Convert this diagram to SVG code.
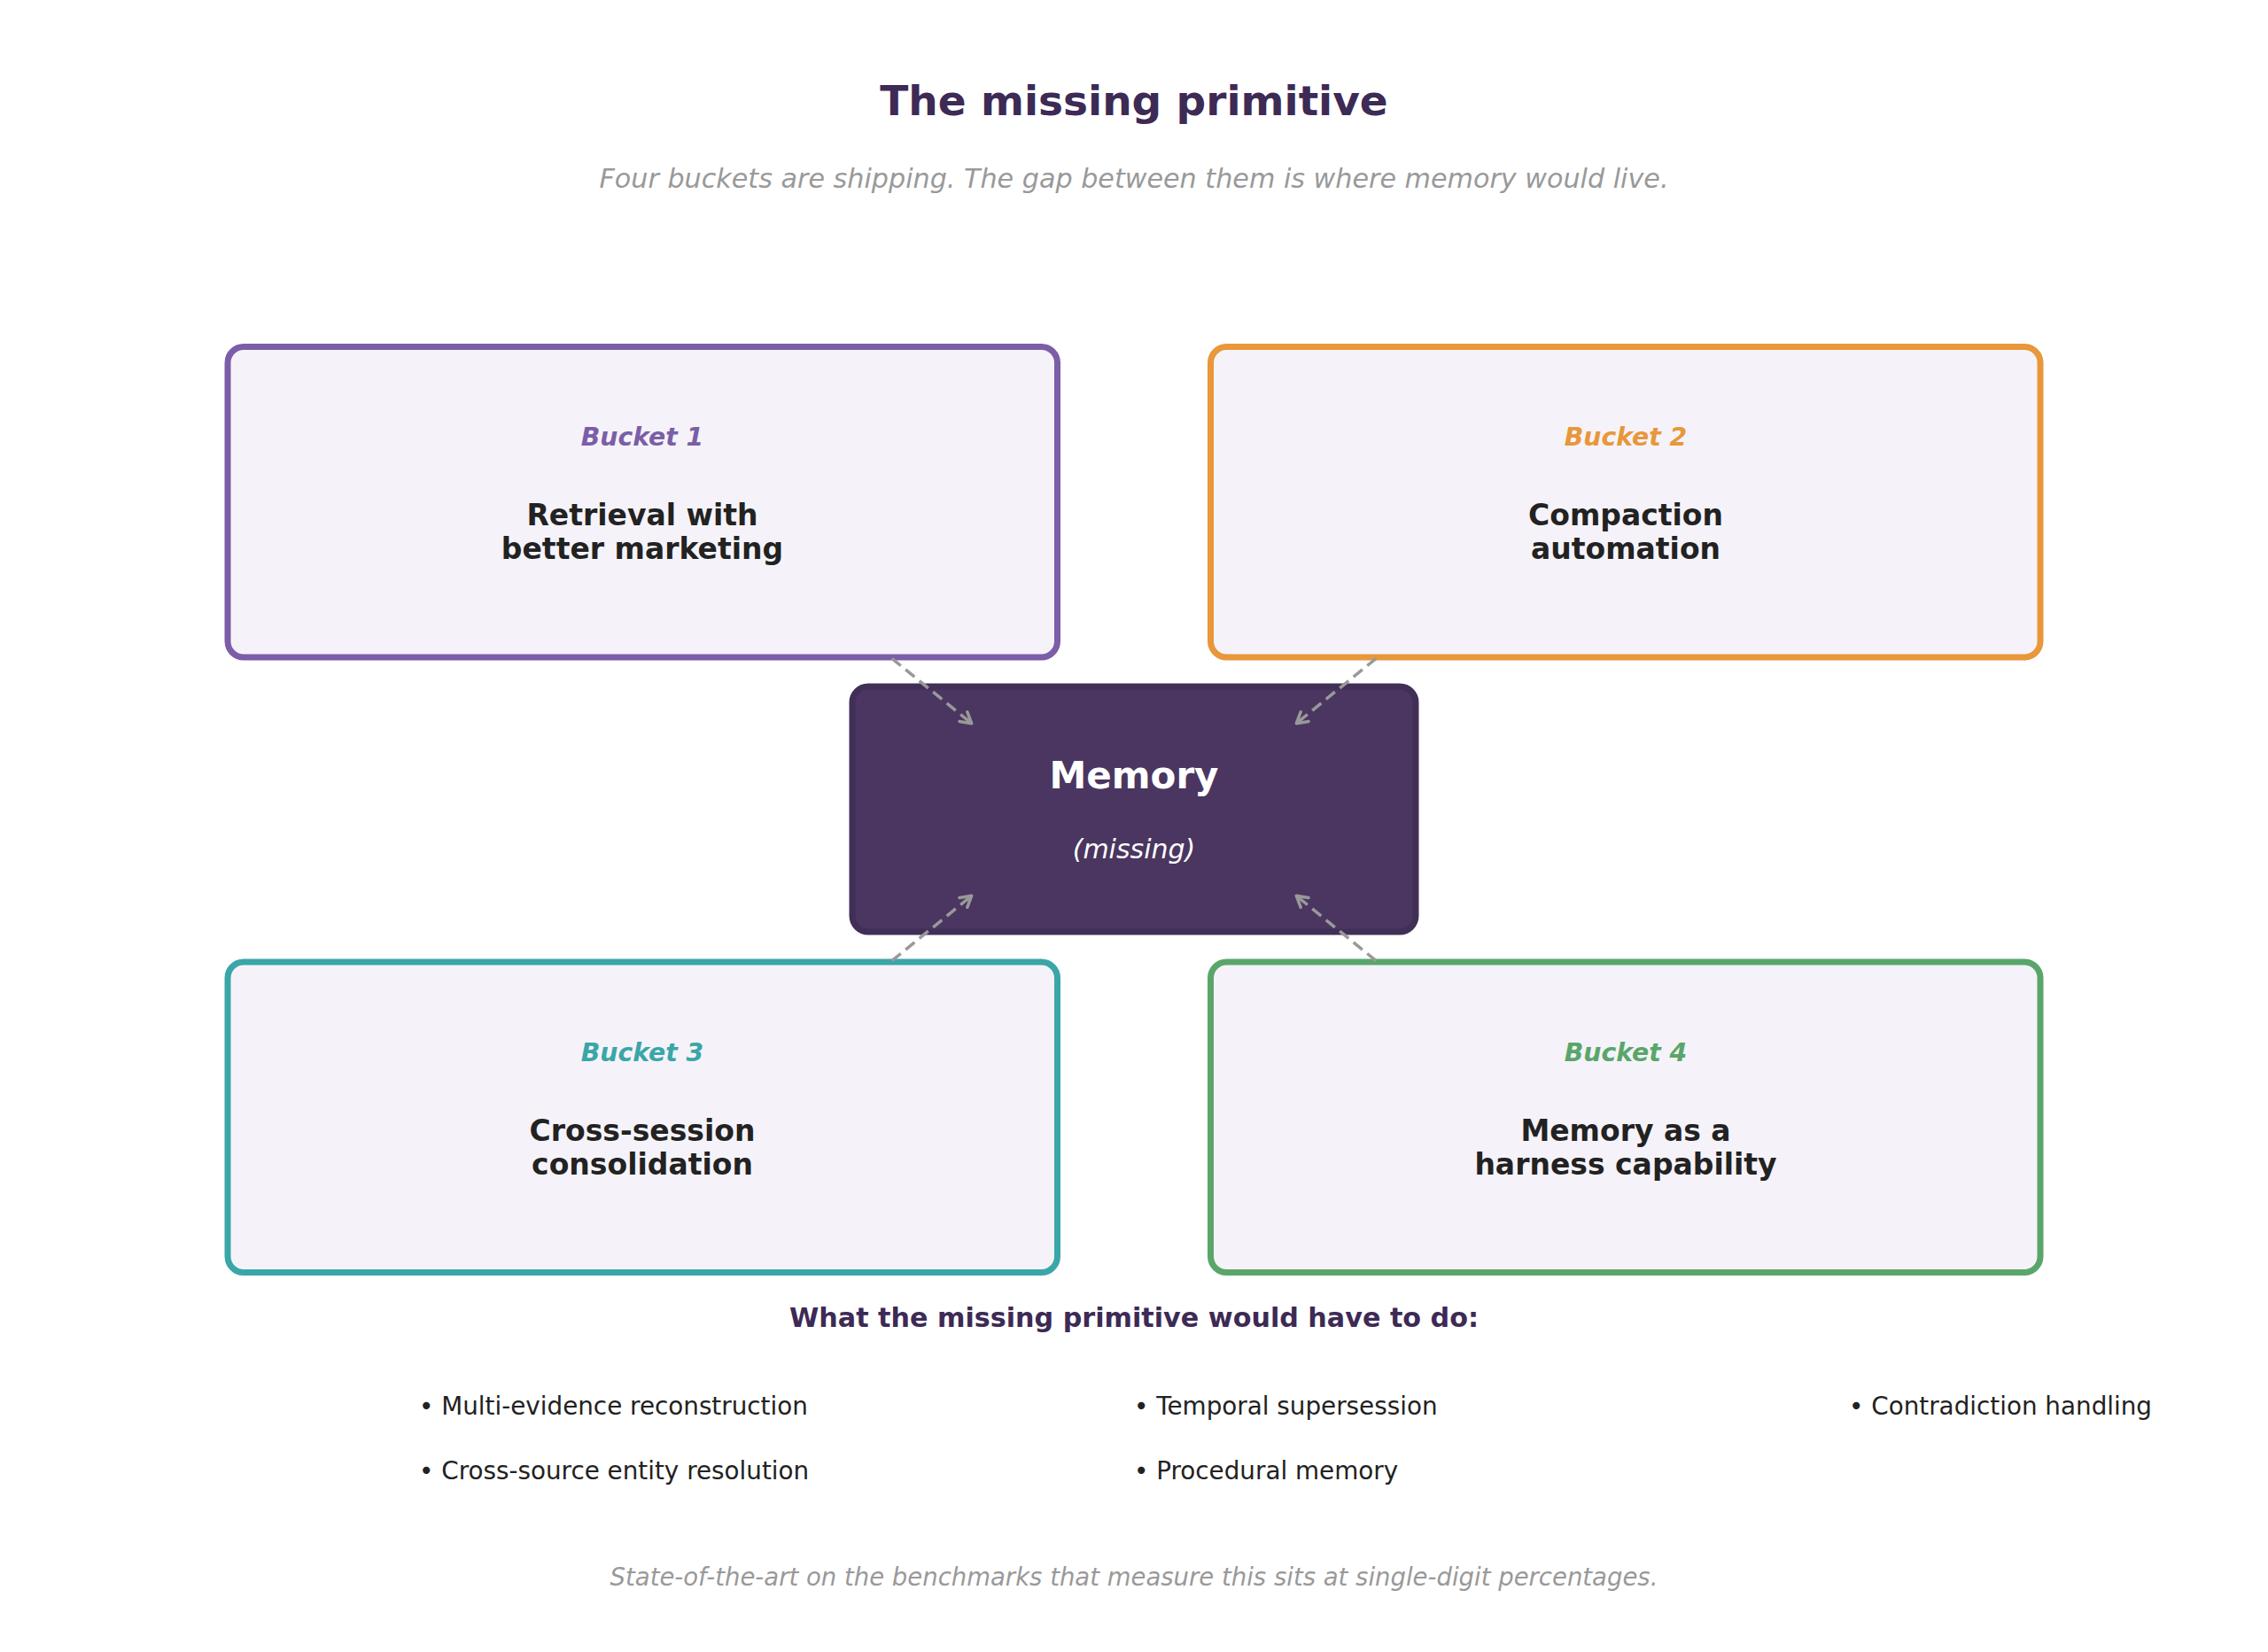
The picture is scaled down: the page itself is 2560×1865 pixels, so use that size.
<svg xmlns="http://www.w3.org/2000/svg" width="2560" height="1865" viewBox="0 0 2560 1865">
<defs>
<style>
text{font-family:"DejaVu Sans","Liberation Sans",sans-serif;text-anchor:middle}
.title{font-size:47px;font-weight:bold;fill:#3d2a55}
.sub{font-size:30.2px;font-style:italic;fill:#999999}
.box{fill:#f5f3f9;stroke-width:7}
.lbl{font-size:28.3px;font-weight:bold;font-style:italic}
.main{font-size:33px;font-weight:bold;fill:#222222}
.head{font-size:30.2px;font-weight:bold;fill:#3d2a55}
.bul{font-size:27.8px;fill:#222222;text-anchor:start}
.foot{font-size:27.5px;font-style:italic;fill:#999999}
.conn{fill:none;stroke:#999999;stroke-width:3.5;stroke-dasharray:13 7}
</style>
<marker id="ah" viewBox="0 0 20 20" refX="16" refY="10" markerWidth="20" markerHeight="20" markerUnits="userSpaceOnUse" orient="auto">
<path d="M4,3 L16,10 L4,17" fill="none" stroke="#999999" stroke-width="3.5" stroke-linecap="round" stroke-linejoin="round"/>
</marker>
</defs>
<rect width="2560" height="1865" fill="#ffffff"/>
<text class="title" x="1280" y="130">The missing primitive</text>
<text class="sub" x="1280" y="212">Four buckets are shipping. The gap between them is where memory would live.</text>

<g id="bucket1">
<rect class="box" x="257" y="391.5" width="936.5" height="350.5" rx="18" stroke="#7b5ea7"/>
<text class="lbl" x="725" y="503" fill="#7b5ea7">Bucket 1</text>
<text class="main" x="725" y="593">Retrieval with</text>
<text class="main" x="725" y="631">better marketing</text>
</g>
<g id="bucket2">
<rect class="box" x="1366.5" y="391.5" width="936.5" height="350.5" rx="18" stroke="#e8973a"/>
<text class="lbl" x="1835" y="503" fill="#e8973a">Bucket 2</text>
<text class="main" x="1835" y="593">Compaction</text>
<text class="main" x="1835" y="631">automation</text>
</g>
<g id="bucket3">
<rect class="box" x="257" y="1086" width="936.5" height="350.5" rx="18" stroke="#3aa6a8"/>
<text class="lbl" x="725" y="1197.5" fill="#3aa6a8">Bucket 3</text>
<text class="main" x="725" y="1287.5">Cross-session</text>
<text class="main" x="725" y="1325.5">consolidation</text>
</g>
<g id="bucket4">
<rect class="box" x="1366.5" y="1086" width="936.5" height="350.5" rx="18" stroke="#5aa66a"/>
<text class="lbl" x="1835" y="1197.5" fill="#5aa66a">Bucket 4</text>
<text class="main" x="1835" y="1287.5">Memory as a</text>
<text class="main" x="1835" y="1325.5">harness capability</text>
</g>
<g id="memory">
<rect x="962" y="775" width="636" height="277" rx="18" fill="#4a3660" stroke="#412f57" stroke-width="7"/>
<text x="1280" y="890" font-size="42" font-weight="bold" fill="#ffffff">Memory</text>
<text x="1280" y="969" font-size="30" font-style="italic" fill="#ffffff">(missing)</text>
</g>

<g id="connectors">
<path class="conn" d="M1006.7,743.3 L1096.7,816.7" marker-end="url(#ah)"/>
<path class="conn" d="M1553.3,743.3 L1463.3,816.7" marker-end="url(#ah)"/>
<path class="conn" d="M1006.7,1084.7 L1096.7,1011.3" marker-end="url(#ah)"/>
<path class="conn" d="M1553.3,1084.7 L1463.3,1011.3" marker-end="url(#ah)"/>
</g>

<g id="requirements">
<text class="head" x="1280" y="1498">What the missing primitive would have to do:</text>
<text class="bul" x="473" y="1597">• Multi-evidence reconstruction</text>
<text class="bul" x="473" y="1670">• Cross-source entity resolution</text>
<text class="bul" x="1280" y="1597">• Temporal supersession</text>
<text class="bul" x="1280" y="1670">• Procedural memory</text>
<text class="bul" x="2087" y="1597">• Contradiction handling</text>
</g>
<text class="foot" x="1280" y="1790">State-of-the-art on the benchmarks that measure this sits at single-digit percentages.</text>
</svg>
